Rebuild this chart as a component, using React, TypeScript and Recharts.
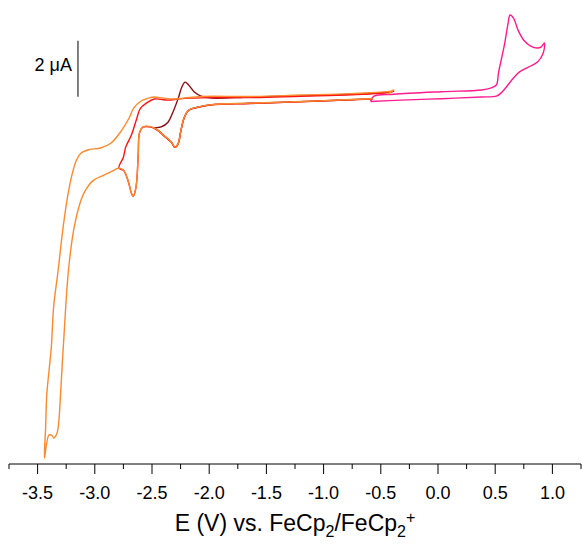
import React from 'react';
import { LineChart, Line, XAxis, YAxis, ReferenceLine } from 'recharts';

// potential (V vs Fc/Fc+), current (µA)
const SCAN_WIDE: [number, number][] = [
  [-0.57, 0.05], [-0.76, 0.02], [-1.2, -0.05], [-1.64, -0.11], [-1.98, -0.16],
  [-2.1, -0.25], [-2.18, -0.36], [-2.22, -0.64], [-2.25, -1.14], [-2.27, -1.54],
  [-2.3, -1.68], [-2.33, -1.5], [-2.4, -1.25], [-2.45, -1.07], [-2.51, -0.95],
  [-2.58, -0.96], [-2.61, -1.18], [-2.62, -1.89], [-2.64, -3.11], [-2.665, -3.43],
  [-2.68, -3.32], [-2.71, -2.86], [-2.75, -2.5], [-2.79, -2.43], [-2.83, -2.5],
  [-2.92, -2.68], [-3.01, -2.86], [-3.08, -3.21], [-3.12, -3.57], [-3.18, -4.54],
  [-3.23, -6.07], [-3.27, -8.46], [-3.3, -10.54], [-3.31, -11.25], [-3.33, -11.89],
  [-3.36, -12.07], [-3.37, -12.0], [-3.4, -11.96], [-3.44, -12.79], [-3.43, -11.71],
  [-3.42, -10.54], [-3.38, -8.82], [-3.36, -7.39], [-3.32, -6.07], [-3.28, -4.64],
  [-3.24, -3.5], [-3.2, -2.68], [-3.16, -2.14], [-3.12, -1.89], [-3.05, -1.77],
  [-2.95, -1.71], [-2.86, -1.54], [-2.77, -1.11], [-2.7, -0.64], [-2.66, -0.29],
  [-2.6, -0.04], [-2.53, 0.07], [-2.48, 0.11], [-2.4, 0.07], [-2.31, 0.04],
  [-2.22, 0.07], [-2.07, 0.13], [-1.64, 0.13], [-1.2, 0.18], [-0.76, 0.23],
  [-0.41, 0.32], [-0.385, 0.36], [-0.44, 0.21],
];

const SCAN_MID: [number, number][] = [
  [-0.57, 0.04], [-0.76, 0.01], [-1.2, -0.06], [-1.64, -0.12], [-1.98, -0.17],
  [-2.1, -0.26], [-2.18, -0.37], [-2.22, -0.65], [-2.25, -1.15], [-2.27, -1.55],
  [-2.3, -1.69], [-2.33, -1.51], [-2.4, -1.26], [-2.45, -1.08], [-2.51, -0.96],
  [-2.58, -0.97], [-2.61, -1.19], [-2.62, -1.9], [-2.64, -3.12], [-2.665, -3.44],
  [-2.68, -3.33], [-2.71, -2.87], [-2.75, -2.51], [-2.79, -2.43], [-2.75, -2.04],
  [-2.73, -1.68], [-2.68, -1.25], [-2.64, -0.75], [-2.6, -0.29], [-2.55, -0.11],
  [-2.48, 0.04], [-2.36, 0.0], [-2.27, 0.04], [-2.16, 0.07], [-1.98, 0.09],
  [-1.64, 0.09], [-1.2, 0.14], [-0.76, 0.19], [-0.41, 0.29], [-0.385, 0.33],
];

const SCAN_SHORT: [number, number][] = [
  [-0.57, 0.045], [-0.76, 0.015], [-1.2, -0.055], [-1.64, -0.115], [-1.98, -0.165],
  [-2.1, -0.255], [-2.18, -0.365], [-2.22, -0.645], [-2.25, -1.145], [-2.27, -1.545],
  [-2.3, -1.685], [-2.33, -1.505], [-2.4, -1.255], [-2.45, -1.075], [-2.48, -1.0],
  [-2.42, -0.96], [-2.36, -0.79], [-2.32, -0.46], [-2.27, 0.07], [-2.24, 0.46],
  [-2.21, 0.64], [-2.18, 0.54], [-2.13, 0.29], [-2.07, 0.14], [-1.98, 0.07],
  [-1.64, 0.11], [-1.2, 0.16], [-0.76, 0.21], [-0.41, 0.3], [-0.385, 0.34],
];

const SCAN_OX: [number, number][] = [
  [-0.59, -0.05], [-0.56, 0.14], [-0.385, 0.21], [0.03, 0.3], [0.38, 0.36],
  [0.46, 0.43], [0.51, 0.54], [0.53, 1.0], [0.58, 1.96], [0.61, 2.68],
  [0.63, 3.04], [0.66, 2.93], [0.7, 2.5], [0.75, 2.14], [0.81, 1.93],
  [0.87, 1.86], [0.9, 1.89], [0.93, 2.04], [0.92, 1.68], [0.87, 1.36],
  [0.79, 1.18], [0.71, 1.0], [0.66, 0.79], [0.59, 0.43], [0.55, 0.25],
  [0.51, 0.14], [0.38, 0.11], [0.03, 0.05], [-0.32, 0.0], [-0.59, -0.05],
];

const X_TICKS = [
  -3.75, -3.5, -3.25, -3.0, -2.75, -2.5, -2.25, -2.0, -1.75, -1.5, -1.25,
  -1.0, -0.75, -0.5, -0.25, 0.0, 0.25, 0.5, 0.75, 1.0, 1.25,
];

const SCALE_BAR = [{ x: -3.147, y: 0.12 }, { x: -3.147, y: 2.12 }];

const toRows = (pts: [number, number][]) => pts.map(([e, i]) => ({ e, i }));

const FONT = '"Liberation Sans", Arial, Helvetica, sans-serif';

// centripetal Catmull-Rom, so the loops pass through every read point without overshooting
function smoothCurve(context: any) {
  let pts: [number, number][] = [];
  return {
    areaStart() {},
    areaEnd() {},
    lineStart() { pts = []; },
    point(x: number, y: number) { pts.push([x, y]); },
    lineEnd() {
      if (!pts.length) return;
      context.moveTo(pts[0][0], pts[0][1]);
      for (let k = 0; k < pts.length - 1; k++) {
        const p0 = pts[k - 1] || pts[k];
        const p1 = pts[k];
        const p2 = pts[k + 1];
        const p3 = pts[k + 2] || p2;
        const d = (a: number[], b: number[]) => Math.hypot(a[0] - b[0], a[1] - b[1]);
        const l01 = d(p0, p1), l12 = d(p1, p2), l23 = d(p2, p3);
        const l01a = Math.sqrt(l01), l12a = Math.sqrt(l12), l23a = Math.sqrt(l23);
        let c1x = p1[0], c1y = p1[1], c2x = p2[0], c2y = p2[1];
        if (l01a > 1e-6) {
          const a = 2 * l01 + 3 * l01a * l12a + l12;
          const n = 3 * l01a * (l01a + l12a);
          c1x = (p1[0] * a - p0[0] * l12 + p2[0] * l01) / n;
          c1y = (p1[1] * a - p0[1] * l12 + p2[1] * l01) / n;
        }
        if (l23a > 1e-6) {
          const b = 2 * l23 + 3 * l23a * l12a + l12;
          const m = 3 * l23a * (l23a + l12a);
          c2x = (p2[0] * b + p1[0] * l23 - p3[0] * l12) / m;
          c2y = (p2[1] * b + p1[1] * l23 - p3[1] * l12) / m;
        }
        context.bezierCurveTo(c1x, c1y, c2x, c2y, p2[0], p2[1]);
      }
    },
  };
}

function AxisTick(props: any) {
  const { x, y, payload } = props;
  const v = payload.value as number;
  const major = Math.abs(v * 2 - Math.round(v * 2)) < 1e-6;
  return (
    <g>
      <line x1={x} x2={x} y1={y} y2={y + (major ? 10 : 5)} stroke="#000" strokeWidth={1} />
      {major && (
        <text x={x} y={y + 35} textAnchor="middle" fontSize={18} fontFamily={FONT} fill="#000">
          {v.toFixed(1)}
        </text>
      )}
    </g>
  );
}

function AxisTitle(props: any) {
  const vb = props.viewBox;
  return (
    <text
      x={vb.x + vb.width / 2}
      y={vb.y + 67}
      textAnchor="middle"
      fontSize={23}
      fontFamily={FONT}
      fill="#000"
    >
      E (V) vs. FeCp
      <tspan dy={6} fontSize={16}>2</tspan>
      <tspan dy={-6} fontSize={23}>/FeCp</tspan>
      <tspan dy={6} fontSize={16}>2</tspan>
      <tspan dy={-14} fontSize={16}>+</tspan>
    </text>
  );
}

function ScaleLabel(props: any) {
  const vb = props.viewBox;
  const top = Math.min(vb.y, vb.y + (vb.height || 0));
  return (
    <text x={vb.x - 6} y={top + 30} textAnchor="end" fontSize={18} fontFamily={FONT} fill="#000">
      2 μA
    </text>
  );
}

export default function App() {
  return (
    <div style={{ position: 'absolute', left: 0, top: 0, background: '#fff' }}>
      <LineChart width={582} height={545} margin={{ top: 8, right: 1, bottom: 0, left: 9 }}>
        <XAxis
          dataKey="e"
          type="number"
          domain={[-3.75, 1.25]}
          allowDataOverflow
          ticks={X_TICKS}
          interval={0}
          tickLine={false}
          tickSize={0}
          tickMargin={0}
          tick={<AxisTick />}
          height={81}
          axisLine={{ stroke: '#000', strokeWidth: 1 }}
          label={<AxisTitle />}
        />
        <YAxis dataKey="i" type="number" domain={[-13, 3.29]} allowDataOverflow hide />
        <ReferenceLine segment={SCALE_BAR} stroke="#000" strokeWidth={1} label={<ScaleLabel />} />
        <Line data={toRows(SCAN_OX)} dataKey="i" type={smoothCurve as any} stroke="#FF1C8E" strokeWidth={1.4} dot={false} isAnimationActive={false} />
        <Line data={toRows(SCAN_SHORT)} dataKey="i" type={smoothCurve as any} stroke="#8B0F12" strokeWidth={1.4} dot={false} isAnimationActive={false} />
        <Line data={toRows(SCAN_MID)} dataKey="i" type={smoothCurve as any} stroke="#FF1414" strokeWidth={1.4} dot={false} isAnimationActive={false} />
        <Line data={toRows(SCAN_WIDE)} dataKey="i" type={smoothCurve as any} stroke="#FA8A2E" strokeWidth={1.4} dot={false} isAnimationActive={false} />
      </LineChart>
    </div>
  );
}
